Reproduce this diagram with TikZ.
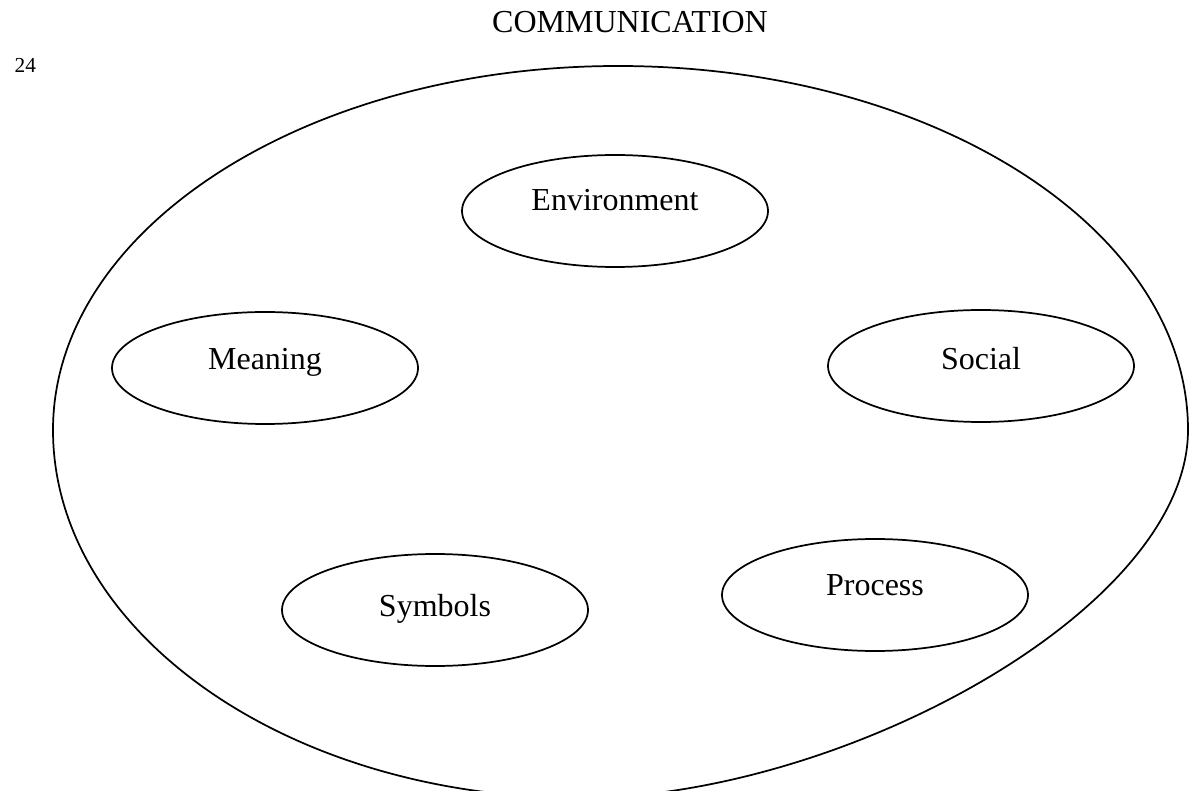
\documentclass[tikz,border=0pt]{standalone}
\usepackage{fontspec}
\setmainfont{Liberation Serif}
\usepackage{tikz}
\usetikzlibrary{shapes.geometric}
\tikzset{font=\fontsize{24}{28}\selectfont}
\tikzset{TopicOval/.style={draw, ellipse, line width=1.3pt, inner sep=0pt,
    minimum width=229.5pt, minimum height=84pt,
    text height=16pt, text depth=#1},
  TopicOval/.default=19pt}
\tikzset{PageNum/.style={font=\fontsize{16}{19}\selectfont, anchor=base west}}

\begin{document}
\begin{tikzpicture}[x=0.75pt,y=-0.75pt]
  \useasboundingbox (0,0) rectangle (1189,791);

  % outline round everything
  \coordinate (left) at (53,430);
  \coordinate (top) at (618,66);
  \coordinate (right) at (1188,430);
  \coordinate (bottom) at (580,798);

  \draw[line width=1.3pt] (left)
  .. controls (53,229) and (306,66) .. (top)
  .. controls (933,66) and (1188,229) .. (right)
  .. controls (1188,610) and (840,798) .. (bottom)
  .. controls (289,798) and (53,633) .. (left) -- cycle;

  \node[anchor=base] (title) at (630,33) {COMMUNICATION};
  \node[PageNum] (pagenum) at (10,73) {24};

  \node[TopicOval=16pt] (environment) at (615,211) {Environment};
  \node[TopicOval=13pt] (meaning) at (265,368) {Meaning};
  \node[TopicOval=10pt] (social) at (981,366) {Social};
  \node[TopicOval=7pt] (symbols) at (435,610) {Symbols};
  \node[TopicOval=16pt] (process) at (875,595) {Process};
\end{tikzpicture}
\end{document}
